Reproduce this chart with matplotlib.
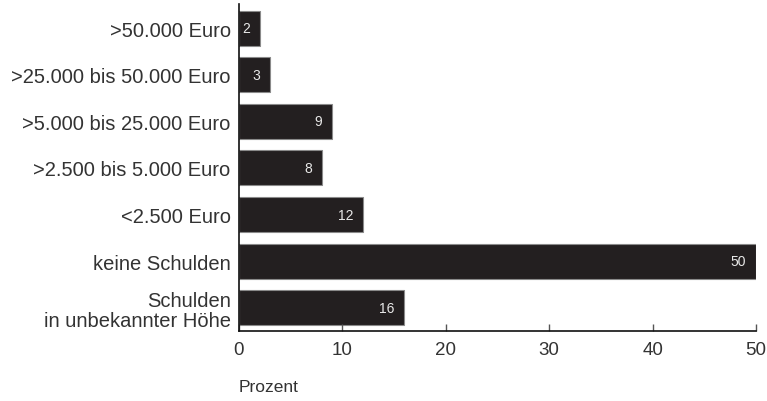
import matplotlib
matplotlib.use("Agg")
import matplotlib.pyplot as plt

plt.rcParams['font.family'] = ['Liberation Sans', 'DejaVu Sans']

# data, bottom to top
categories = ["Schulden\nin unbekannter Höhe", "keine Schulden", "<2.500 Euro",
              ">2.500 bis 5.000 Euro", ">5.000 bis 25.000 Euro",
              ">25.000 bis 50.000 Euro", ">50.000 Euro"]
values = [16, 50, 12, 8, 9, 3, 2]
x_ticks = [0, 10, 20, 30, 40, 50]

text_col = '#333333'
bar_col = '#231f20'

fig = plt.figure(figsize=(7.67, 4.02), dpi=100)
ax = fig.add_axes([0.3116, 0.1741, 0.6741, 0.8135])

pos = list(range(len(categories)))
ax.barh(pos, values, height=0.75, color=bar_col, edgecolor='#8a8a8a', linewidth=0.8)

for p, v in zip(pos, values):
    ax.annotate(str(v), xy=(v, p), xytext=(-7, 0), textcoords='offset points',
                ha='right', va='center', fontsize=10, color='#e8e8e8')

ax.set_xlim(0, 50)
ax.set_ylim(-0.5, 6.52)
ax.set_xticks(x_ticks)
ax.set_yticks(pos)
ax.set_yticklabels(categories, fontsize=14.5, color=text_col, linespacing=1.1)
ax.tick_params(axis='y', length=0, pad=6)
ax.tick_params(axis='x', direction='in', length=5, width=1, color='#555555',
               labelsize=13.5, labelcolor=text_col, pad=7)

for s in ['top', 'right']:
    ax.spines[s].set_visible(False)
for s in ['left', 'bottom']:
    ax.spines[s].set_color('#111111')
    ax.spines[s].set_linewidth(1.2)

fig.text(239 / 767, 1 - 388 / 402, "Prozent", fontsize=12.5, color=text_col,
         ha='left', va='center')

fig.savefig("out.png", dpi=100)
